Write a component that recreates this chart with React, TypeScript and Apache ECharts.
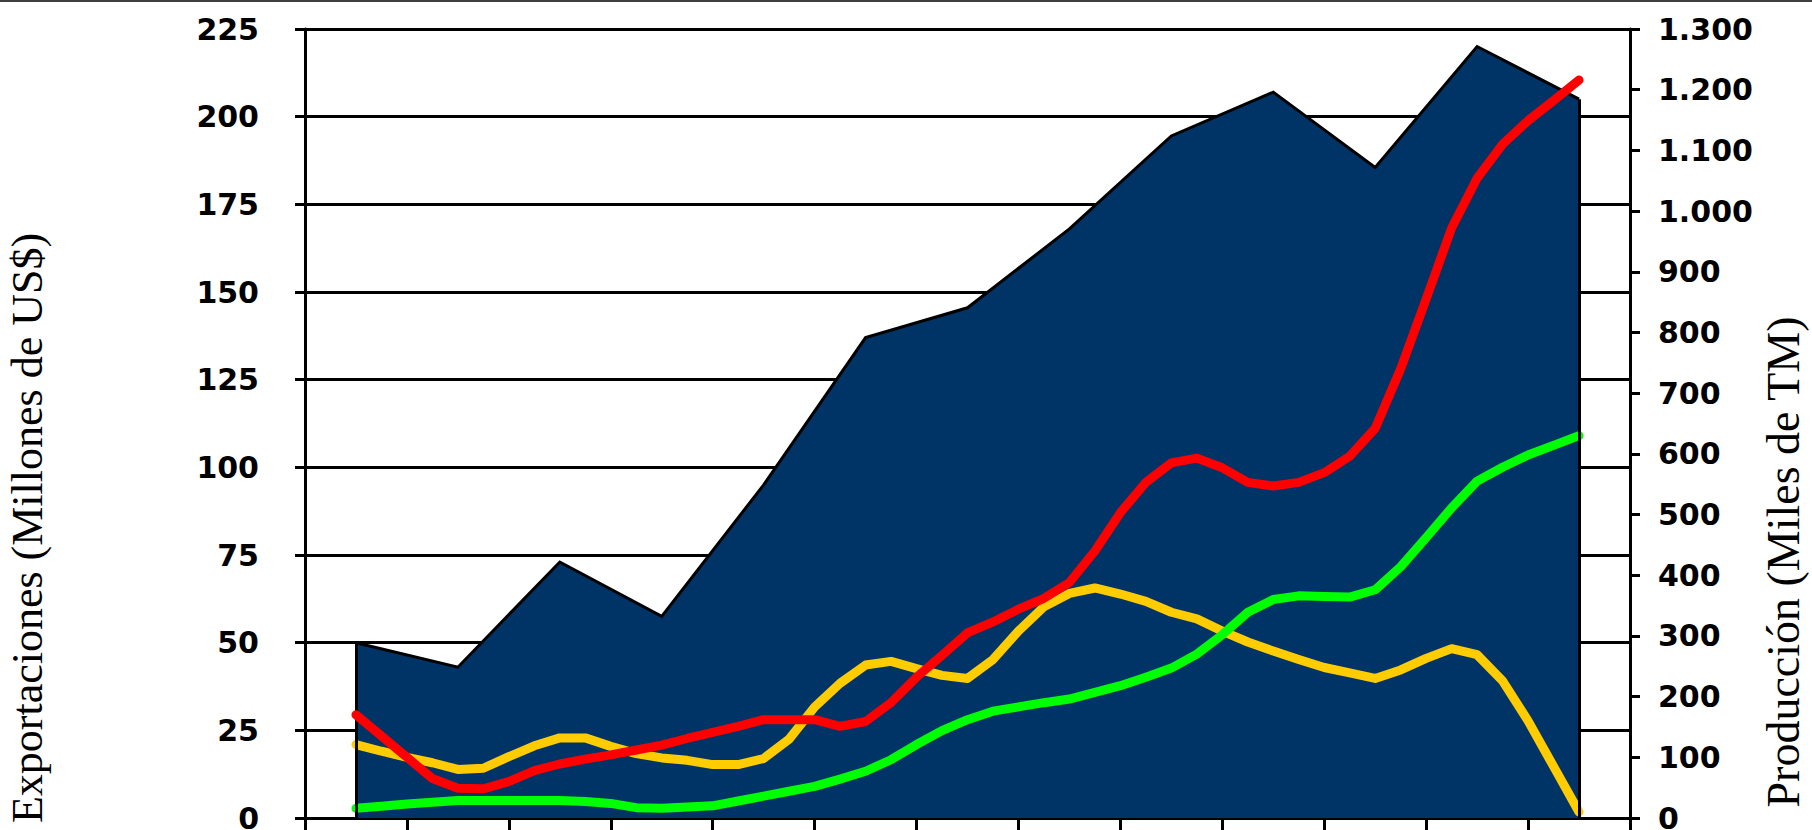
import React, { useEffect, useRef } from "react";
import * as echarts from "echarts";

// Exportaciones (Millones de US$) – one value per period (13 periods)
const exportValues = [50, 43, 73, 57.5, 95, 137, 145.5, 168, 194.5, 207, 185.5, 220, 205];

// Producción (Miles de TM) – readings every quarter period, from mid first period to mid last period
const redProduction = [
  170, 135, 100, 65, 49, 48, 60, 78, 89, 97,
  104, 112, 120, 131, 141, 151, 162, 162, 162, 151,
  159, 190, 232, 268, 305, 323, 344, 362, 388, 440,
  503, 553, 585, 593, 577, 553, 547, 553, 569, 596,
  642, 740, 855, 972, 1054, 1110, 1149, 1182, 1216,
];
const yellowProduction = [
  121, 110, 100, 91, 80, 82, 101, 119, 132, 132,
  118, 106, 99, 95, 88, 88, 98, 130, 183, 222,
  252, 258, 246, 235, 230, 261, 308, 348, 370, 379,
  369, 357, 339, 328, 308, 290, 275, 261, 248, 239,
  230, 244, 263, 279, 269, 226, 160, 85, 10,
];
const greenProduction = [
  16, 19.5, 23, 26, 29, 29, 29, 29, 29, 27,
  24, 17, 16, 18, 20, 28, 36, 44, 52, 64,
  77, 96, 121, 144, 162, 176, 183, 190, 196, 207,
  218, 232, 247, 270, 302, 339, 360, 366, 365, 364,
  376, 414, 462, 511, 555, 578, 598, 614, 630,
];

const PERIODS = exportValues.length;
const LINE_START = 0.5;
const LINE_STEP = 0.25;

const leftTitle = "Exportaciones (Millones de US$)";
const rightTitle = "Producción (Miles de TM)";

const toPairs = (arr: number[]) => arr.map((v, i) => [LINE_START + i * LINE_STEP, v]);

const thousands = (v: number) => {
  if (v >= 1000) {
    const t = Math.floor(v / 1000);
    const r = String(v % 1000).padStart(3, "0");
    return t + "." + r;
  }
  return String(v);
};

const labelFont = {
  color: "#000",
  fontFamily: "DejaVu Sans",
  fontWeight: "bold" as const,
  fontSize: 30,
  lineHeight: 24,
};

export default function App() {
  const ref = useRef<HTMLDivElement>(null);

  useEffect(() => {
    if (!ref.current) return;
    const chart = echarts.init(ref.current, undefined, { renderer: "svg" });
    const black = "#000000";
    const option: any = {
      animation: false,
      backgroundColor: "#ffffff",
      grid: {
        left: 305,
        right: 182,
        top: 29,
        bottom: 12,
        containLabel: false,
        outerBoundsMode: "none",
      },
      xAxis: {
        type: "value",
        min: 0,
        max: PERIODS,
        interval: 1,
        axisLine: { show: true, onZero: false, lineStyle: { color: black, width: 3 } },
        axisTick: { show: true, inside: false, length: 12, lineStyle: { color: black, width: 3 } },
        axisLabel: { show: false },
        splitLine: { show: false },
      },
      yAxis: [
        {
          type: "value",
          min: 0,
          max: 225,
          interval: 25,
          position: "left",
          axisLine: { show: true, lineStyle: { color: black, width: 3 } },
          axisTick: { show: true, inside: false, length: 10, lineStyle: { color: black, width: 3 } },
          axisLabel: { ...labelFont, margin: 46 },
          splitLine: { show: true, lineStyle: { color: black, width: 3 } },
        },
        {
          type: "value",
          min: 0,
          max: 1300,
          interval: 100,
          position: "right",
          axisLine: { show: true, lineStyle: { color: black, width: 3 } },
          axisTick: { show: true, inside: false, length: 10, lineStyle: { color: black, width: 3 } },
          axisLabel: { ...labelFont, margin: 28, formatter: (v: number) => thousands(v) },
          splitLine: { show: false },
        },
      ],
      graphic: [
        {
          type: "rect",
          shape: { x: 0, y: 0, width: 1812, height: 2 },
          style: { fill: "#404040" },
          silent: true,
        },
        {
          type: "text",
          x: 27,
          y: 528,
          rotation: Math.PI / 2,
          style: {
            text: leftTitle,
            font: 'normal 44px "Liberation Serif"',
            fill: black,
            align: "center",
            verticalAlign: "middle",
            textAlign: "center",
            textVerticalAlign: "middle",
          },
        },
        {
          type: "text",
          x: 1783,
          y: 562,
          rotation: Math.PI / 2,
          style: {
            text: rightTitle,
            font: 'normal 46px "Liberation Serif"',
            fill: black,
            align: "center",
            verticalAlign: "middle",
            textAlign: "center",
            textVerticalAlign: "middle",
          },
        },
      ],
      series: [
        {
          type: "line",
          name: "Exportaciones",
          yAxisIndex: 0,
          data: exportValues.map((v, i) => [i + 0.5, v]),
          symbol: "none",
          lineStyle: { color: black, width: 3, join: "miter" },
          itemStyle: { color: "#003366" },
          areaStyle: { color: "#003366", opacity: 1 },
          z: 2,
          markLine: {
            silent: true,
            symbol: ["none", "none"],
            label: { show: false },
            lineStyle: { color: black, width: 3, type: "solid" },
            data: [
              [{ coord: [0.5, 0] }, { coord: [0.5, exportValues[0]] }],
              [{ coord: [PERIODS - 0.5, 0] }, { coord: [PERIODS - 0.5, exportValues[PERIODS - 1]] }],
            ],
          },
        },
        {
          type: "line",
          name: "Producción amarilla",
          yAxisIndex: 1,
          data: toPairs(yellowProduction),
          symbol: "none",
          lineStyle: { color: "#FFCC00", width: 9, cap: "round", join: "round" },
          itemStyle: { color: "#FFCC00" },
          z: 3,
        },
        {
          type: "line",
          name: "Producción verde",
          yAxisIndex: 1,
          data: toPairs(greenProduction),
          symbol: "none",
          lineStyle: { color: "#00FF00", width: 9, cap: "round", join: "round" },
          itemStyle: { color: "#00FF00" },
          z: 4,
        },
        {
          type: "line",
          name: "Producción roja",
          yAxisIndex: 1,
          data: toPairs(redProduction),
          symbol: "none",
          lineStyle: { color: "#FF0000", width: 9, cap: "round", join: "round" },
          itemStyle: { color: "#FF0000" },
          z: 5,
        },
      ],
    };
    chart.setOption(option);
    return () => chart.dispose();
  }, []);

  return (
    <div
      ref={ref}
      style={{ position: "fixed", left: 0, top: 0, width: 1812, height: 830, background: "#fff" }}
    />
  );
}
